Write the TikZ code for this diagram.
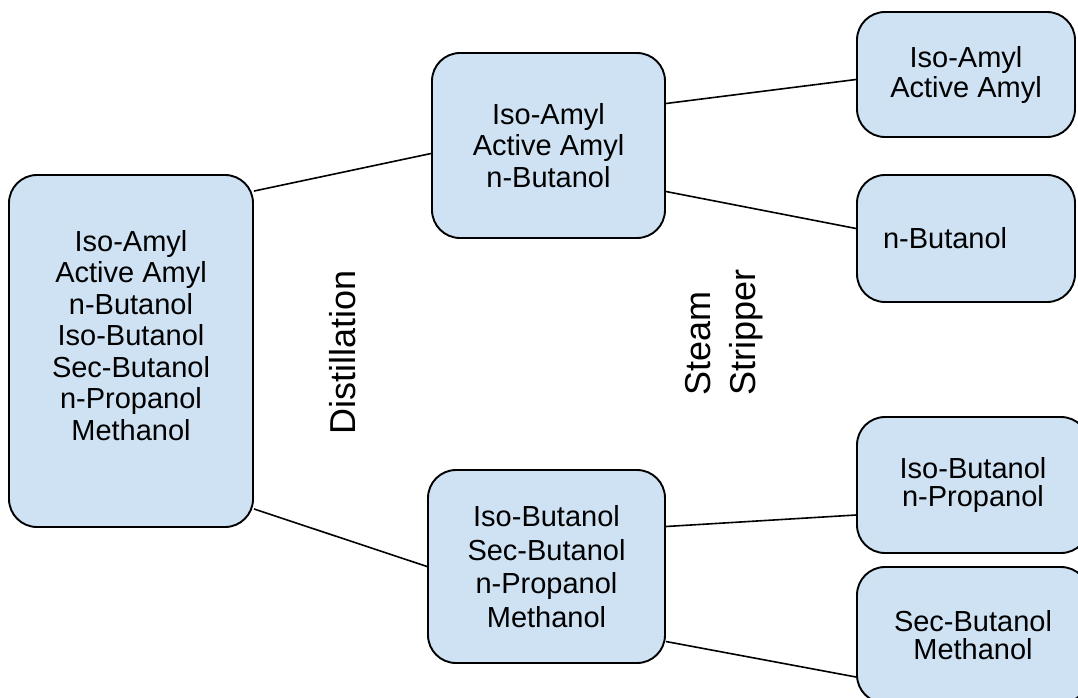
\documentclass[tikz,border=0pt]{standalone}
\usepackage{fontspec}
\setmainfont{Liberation Sans}
\definecolor{boxblue}{HTML}{CFE2F3}

\begin{document}
\begin{tikzpicture}[x=1pt,y=-1pt,
        box/.style={draw, fill=boxblue, line width=1.9pt,
                        rounded corners=28pt, align=center, inner sep=0pt,
                        font=\fontsize{29}{31.5}\selectfont},
        lbl/.style={rotate=90, align=left,
                        font=\fontsize{36}{45}\selectfont},
        wire/.style={line width=1.6pt}]
    \useasboundingbox (0,0) rectangle (1078,697);
    \clip (0,0) rectangle (1078,697);
    % feed and first cut
    \node[box, minimum width=244pt, minimum height=352pt] (feed) at (131,351)
        {Iso-Amyl\\Active Amyl\\n-Butanol\\Iso-Butanol\\Sec-Butanol\\n-Propanol\\Methanol\\\mbox{}};
    \node[box, minimum width=233pt, minimum height=185pt] (amyl) at (548.5,145.5)
        {Iso-Amyl\\Active Amyl\\n-Butanol};
    \node[box, minimum width=237pt, minimum height=193pt,
        font=\fontsize{29}{33.5}\selectfont] (butl) at (546.5,566.5)
        {Iso-Butanol\\Sec-Butanol\\n-Propanol\\Methanol};
    % second cut
    \node[box, minimum width=218pt, minimum height=125pt,
        font=\fontsize{29}{30}\selectfont] (r1) at (966,74.5)
        {Iso-Amyl\\Active Amyl};
    \node[box, minimum width=218pt, minimum height=127pt, text width=166pt,
        align=left, inner xsep=26pt] (r2) at (966,238.5) {n-Butanol};
    \node[box, minimum width=232pt, minimum height=136pt,
        font=\fontsize{29}{28}\selectfont] (r3) at (973,485)
        {Iso-Butanol\\n-Propanol};
    \node[box, minimum width=232pt, minimum height=136pt,
        font=\fontsize{29}{28}\selectfont] (r4) at (973,635)
        {Sec-Butanol\\Methanol};
    \node[lbl] (dist) at (343,352) {Distillation};
    \node[lbl] (strip) at (724.5,332.5) {Steam\\Stripper};
    \draw[wire] ([yshift=-17pt]feed.north east) -- ([yshift=-8pt]amyl.west);
    \draw[wire] ([yshift=19pt]feed.south east) -- (butl.west);
    \draw[wire] ([yshift=42pt]amyl.east) -- ([yshift=-5pt]r1.west);
    \draw[wire] ([yshift=-46pt]amyl.east) -- ([yshift=10pt]r2.west);
    \draw[wire] ([yshift=40pt]butl.east) -- ([yshift=-30pt]r3.west);
    \draw[wire] ([yshift=-75pt]butl.east) -- ([yshift=-42pt]r4.west);
\end{tikzpicture}
\end{document}
